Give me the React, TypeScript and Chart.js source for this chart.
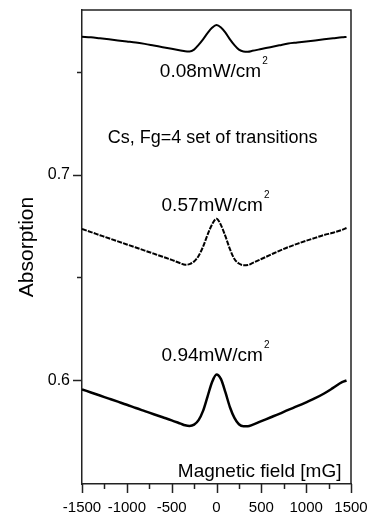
import React, { useEffect, useRef } from 'react';
import { Chart, registerables } from 'chart.js';

Chart.register(...registerables);

// ---- data ----
const field = [
  -1500, -1400, -1300, -1200, -1100, -1000, -900, -800, -700, -600, -500, -400, -350, -300, -250,
  -200, -150, -100, -50, 0, 50, 100, 150, 200, 250, 300, 350, 400, 500, 600, 700, 800, 900, 1000,
  1100, 1200, 1300, 1400, 1450,
];

const absorption008 = [
  0.7673, 0.767, 0.7665, 0.766, 0.7655, 0.765, 0.7645, 0.7638, 0.763, 0.7622, 0.7614, 0.7606, 0.7602,
  0.7601, 0.761, 0.7633, 0.766, 0.769, 0.7716, 0.773, 0.7718, 0.7693, 0.766, 0.7632, 0.761, 0.7601,
  0.76, 0.7604, 0.7613, 0.7622, 0.7631, 0.764, 0.7645, 0.765, 0.7655, 0.766, 0.7665, 0.767, 0.7672,
];

const absorption057 = [
  0.6736, 0.6721, 0.6706, 0.6691, 0.6676, 0.6661, 0.6646, 0.6631, 0.6616, 0.6601, 0.6586, 0.6569,
  0.6562, 0.6565, 0.6578, 0.6605, 0.665, 0.6708, 0.6758, 0.6786, 0.6755, 0.67, 0.6638, 0.659,
  0.6568, 0.656, 0.6561, 0.657, 0.659, 0.661, 0.663, 0.6648, 0.6664, 0.6679, 0.6693, 0.6707, 0.6718,
  0.6732, 0.6741,
];

const absorption094 = [
  0.5955, 0.594, 0.5925, 0.591, 0.5895, 0.588, 0.5864, 0.5849, 0.5834, 0.5819, 0.5804, 0.5788, 0.578,
  0.5777, 0.5783, 0.5805, 0.585, 0.592, 0.599, 0.6028, 0.6005, 0.594, 0.5868, 0.5816, 0.5785,
  0.5775, 0.5775, 0.5782, 0.58, 0.5818, 0.5836, 0.5855, 0.5873, 0.5892, 0.5912, 0.5935, 0.5962,
  0.599, 0.5998,
];

const xTickValues = [-1500, -1250, -1000, -750, -500, -250, 0, 250, 500, 750, 1000, 1250, 1500];
const xTickLabels = ['-1500', '', '-1000', '', '-500', '', '0', '', '500', '', '1000', '', '1500'];
const yTickValues = [0.6, 0.65, 0.7, 0.75];
const yTickLabels = ['0.6', '', '0.7', ''];

const curveLabels = ['0.08mW/cm', '0.57mW/cm', '0.94mW/cm'];
const curveLabelSup = '2';
const noteText = 'Cs, Fg=4 set of transitions';
const xTitle = 'Magnetic field [mG]';
const yTitle = 'Absorption';

// annotation anchors in data coordinates (field, absorption)
const curveLabelAnchors = [
  [-632, 0.7475],
  [-613, 0.6826],
  [-613, 0.6094],
];
const noteAnchor = [-1212, 0.7154];
const xTitleAnchor = [1394, 0.5527];

const FONT = '"Liberation Sans", Arial, Helvetica, sans-serif';
const AXIS_COLOR = '#222';

const toPoints = (vals: number[]) => vals.map((v, i) => ({ x: field[i], y: v }));

const decorPlugin = {
  id: 'decor',
  afterDraw(chart: any) {
    const { ctx, chartArea: a, scales } = chart;
    const xs = scales.x;
    const ys = scales.y;
    ctx.save();
    ctx.strokeStyle = AXIS_COLOR;
    ctx.lineWidth = 1.5;
    ctx.setLineDash([]);
    ctx.beginPath();
    ctx.moveTo(a.left, a.top);
    ctx.lineTo(a.right, a.top);
    ctx.lineTo(a.right, a.bottom);
    ctx.stroke();

    xs.ticks.forEach((t: any, i: number) => {
      const px = Math.round(xs.getPixelForValue(t.value)) + 0.5;
      const len = xTickLabels[i] ? 9 : 5;
      ctx.beginPath();
      ctx.moveTo(px, a.bottom);
      ctx.lineTo(px, a.bottom + len);
      ctx.stroke();
    });
    ys.ticks.forEach((t: any, i: number) => {
      const py = Math.round(ys.getPixelForValue(t.value)) + 0.5;
      const len = yTickLabels[i] ? 9 : 5;
      ctx.beginPath();
      ctx.moveTo(a.left, py);
      ctx.lineTo(a.left - len, py);
      ctx.stroke();
    });

    ctx.fillStyle = '#000';
    ctx.textBaseline = 'alphabetic';
    ctx.textAlign = 'left';
    curveLabels.forEach((txt, i) => {
      const [fx, fy] = curveLabelAnchors[i];
      const px = xs.getPixelForValue(fx);
      const py = ys.getPixelForValue(fy);
      ctx.font = `19px ${FONT}`;
      ctx.fillText(txt, px, py);
      const w = ctx.measureText(txt).width;
      ctx.font = `10px ${FONT}`;
      ctx.fillText(curveLabelSup, px + w + 1, py - 13);
    });

    ctx.font = `18px ${FONT}`;
    ctx.fillText(noteText, xs.getPixelForValue(noteAnchor[0]), ys.getPixelForValue(noteAnchor[1]));

    ctx.font = `19px ${FONT}`;
    ctx.textAlign = 'right';
    ctx.fillText(xTitle, xs.getPixelForValue(xTitleAnchor[0]), ys.getPixelForValue(xTitleAnchor[1]));
    ctx.restore();
  },
};

export default function App() {
  const canvasRef = useRef<HTMLCanvasElement | null>(null);

  useEffect(() => {
    if (!canvasRef.current) return;
    const chart = new Chart(canvasRef.current, {
      type: 'line',
      data: {
        datasets: [
          {
            label: curveLabels[0],
            data: toPoints(absorption008),
            borderColor: '#000',
            borderWidth: 2,
            pointRadius: 0,
            cubicInterpolationMode: 'monotone',
          },
          {
            label: curveLabels[1],
            data: toPoints(absorption057),
            borderColor: '#000',
            borderWidth: 2,
            borderDash: [5, 1.2],
            pointRadius: 0,
            cubicInterpolationMode: 'monotone',
          },
          {
            label: curveLabels[2],
            data: toPoints(absorption094),
            borderColor: '#000',
            borderWidth: 2.5,
            pointRadius: 0,
            cubicInterpolationMode: 'monotone',
          },
        ],
      },
      options: {
        animation: false,
        responsive: false,
        devicePixelRatio: 1,
        layout: { padding: { top: 10, right: 24, left: 0, bottom: 0 } },
        plugins: { legend: { display: false }, tooltip: { enabled: false } },
        scales: {
          x: {
            type: 'linear',
            min: -1500,
            max: 1500,
            afterBuildTicks: (s: any) => {
              s.ticks = xTickValues.map((v) => ({ value: v }));
            },
            afterFit: (s: any) => {
              s.height = 34;
              s.paddingLeft = 0;
              s.paddingRight = 0;
            },
            grid: { drawOnChartArea: false, drawTicks: false },
            border: { display: true, color: AXIS_COLOR, width: 1.5 },
            ticks: {
              autoSkip: false,
              maxRotation: 0,
              padding: 15,
              color: '#000',
              font: { family: FONT, size: 15 },
              callback: (_v: any, i: number) => xTickLabels[i],
            },
          },
          y: {
            type: 'linear',
            min: 0.5494,
            max: 0.7803,
            afterBuildTicks: (s: any) => {
              s.ticks = yTickValues.map((v) => ({ value: v }));
            },
            afterFit: (s: any) => {
              s.width = 82;
              s.paddingTop = 0;
              s.paddingBottom = 0;
            },
            grid: { drawOnChartArea: false, drawTicks: false },
            border: { display: true, color: AXIS_COLOR, width: 1.5 },
            title: {
              display: true,
              text: yTitle,
              color: '#000',
              font: { family: FONT, size: 21 },
              padding: { top: 15, bottom: 0 },
            },
            ticks: {
              autoSkip: false,
              padding: 12,
              color: '#000',
              font: { family: FONT, size: 16 },
              callback: (_v: any, i: number) => yTickLabels[i],
            },
          },
        },
      },
      plugins: [decorPlugin],
    } as any);
    return () => chart.destroy();
  }, []);

  return (
    <div style={{ position: 'fixed', left: 0, top: 0, width: 375, height: 518, background: '#fff' }}>
      <canvas ref={canvasRef} width={375} height={518} style={{ width: 375, height: 518 }} />
    </div>
  );
}
